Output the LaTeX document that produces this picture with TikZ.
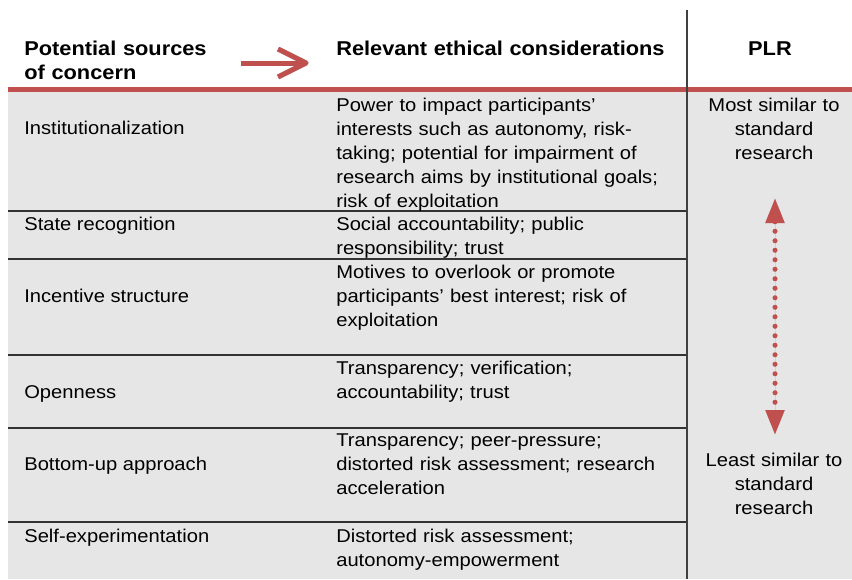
\documentclass[tikz,border=0pt]{standalone}
\usepackage{fontspec}
\setmainfont[FakeStretch=1.09]{Liberation Sans}
\usepackage{tikz}
\usetikzlibrary{arrows.meta}
\usetikzlibrary{calc}
\definecolor{plrred}{HTML}{C0504D}
\definecolor{cellgray}{HTML}{E6E6E6}

\begin{document}
\begin{tikzpicture}[x=1pt,y=-1pt,semithick,font=\fontsize{18.5}{24}\selectfont]
  \tikzstyle{lcell}=[anchor=base west,inner sep=0pt]
  \tikzstyle{rcell}=[anchor=base west,inner sep=0pt,text width=345pt,align=left]
  \tikzstyle{plr}=[anchor=base,inner sep=0pt,text width=150pt,align=center]
  \tikzstyle{head}=[anchor=base west,inner sep=0pt,text width=200pt,align=left,
    font=\fontsize{20}{24}\selectfont\bfseries]
  \tikzstyle{rowline}=[draw=black!80,line width=1.3pt]
  \tikzstyle{hdarrow}=[draw=plrred,line width=5pt,line join=round]
  \tikzstyle{dotarrow}=[draw=plrred,line width=5pt,line cap=round,dash pattern=on 0pt off 9.5pt,
    {Triangle[length=25pt,width=18pt]}-{Triangle[length=25pt,width=18pt]},fill=plrred]
  \useasboundingbox (0,0) rectangle (852,579);

  % background and rules
  \fill[cellgray] (8,92) rectangle (852,579);
  \draw[plrred,line width=5pt] (8,89.5) -- (852,89.5);
  \foreach \y in {211,259,355,428,522}{
    \draw[rowline] (8,\y) -- (687,\y);
  }
  \draw[draw=black!75,line width=1.6pt] (687,10) -- (687,579);

  % header
  \node[head] (src) at (24,55) {Potential sources\\of concern};
  \node[head,text width=345pt] (eth) at (336,55) {Relevant ethical considerations};
  \node[head,anchor=base,text width=60pt,align=center] (plrh) at (770,55) {PLR};
  \coordinate (arrS) at (241,63);
  \coordinate (arrE) at (306,63);
  \begin{scope}[shift={(1.5,2)}]
    \draw[hdarrow,draw=black!25] (arrS) -- (arrE);
    \draw[hdarrow,draw=black!25] ($(arrE)+(-28,-14)$) -- (arrE) -- ($(arrE)+(-28,14)$);
  \end{scope}
  \draw[hdarrow] (arrS) -- (arrE);
  \draw[hdarrow] ($(arrE)+(-28,-14)$) -- (arrE) -- ($(arrE)+(-28,14)$);

  % left column
  \node[lcell] (inst) at (24,134) {Institutionalization};
  \node[lcell] (state) at (24,230) {State recognition};
  \node[lcell] (incent) at (24,302) {Incentive structure};
  \node[lcell] (open) at (24,398) {Openness};
  \node[lcell] (bottom) at (24,470) {Bottom-up approach};
  \node[lcell] (self) at (24,542) {Self-experimentation};

  % middle column
  \node[rcell] (instR) at (336,111) {Power to impact participants’\\interests such as autonomy, risk-\\taking; potential for impairment of\\research aims by institutional goals;\\risk of exploitation};
  \node[rcell] (stateR) at (336,230) {Social accountability; public\\responsibility; trust};
  \node[rcell] (incentR) at (336,278) {Motives to overlook or promote\\participants’ best interest; risk of\\exploitation};
  \node[rcell] (openR) at (336,374) {Transparency; verification;\\accountability; trust};
  \node[rcell] (bottomR) at (336,446) {Transparency; peer-pressure;\\distorted risk assessment; research\\acceleration};
  \node[rcell] (selfR) at (336,542) {Distorted risk assessment;\\autonomy-empowerment};

  % PLR column
  \node[plr] (most) at (774,111) {Most similar to\\standard\\research};
  \node[plr] (least) at (774,466) {Least similar to\\standard\\research};
  \coordinate (up) at (775,198);
  \coordinate (down) at (775,435);
  \draw[dotarrow,draw=black!20,fill=black!20,shift={(1,2)}] (up) -- (down);
  \draw[dotarrow] (up) -- (down);
\end{tikzpicture}
\end{document}
